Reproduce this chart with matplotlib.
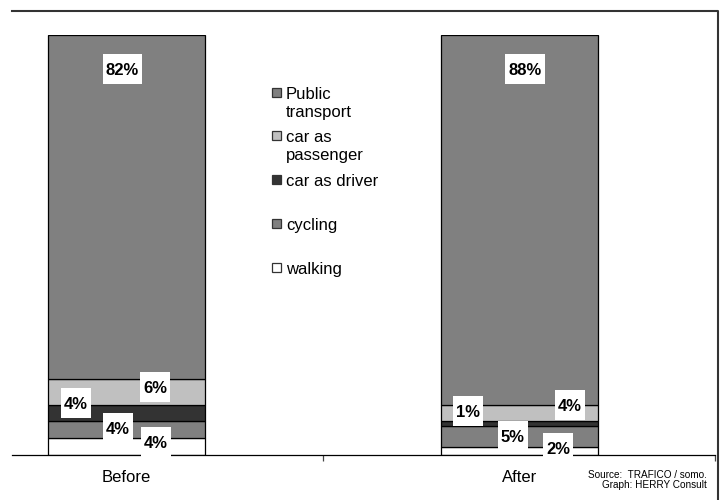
import matplotlib
matplotlib.use("Agg")
import matplotlib.pyplot as plt
from matplotlib.patches import Rectangle
from matplotlib.lines import Line2D
from matplotlib.transforms import Affine2D, ScaledTranslation

plt.rcParams['font.family'] = ['Liberation Sans', 'DejaVu Sans']

# Modal split, stacked bottom-up
periods = ["Before", "After"]
modes = ["walking", "cycling", "car as driver", "car as passenger", "Public transport"]
before = [4, 4, 4, 6, 82]
after = [2, 5, 1, 4, 88]
legend_labels = [["walking"], ["cycling"], ["car as driver"],
                 ["car as", "passenger"], ["Public", "transport"]]
colors = ["#FFFFFF", "#808080", "#333333", "#C0C0C0", "#808080"]

# value-label anchor points (x in category units, y in percent)
label_pos_before = [(0.075, 3.1), (-0.022, 6.4), (-0.128, 12.4), (0.0725, 16.2), (-0.01, 92.0)]
label_pos_after = [(1.098, 1.7), (0.983, 4.5), (0.869, 10.5), (1.128, 11.9), (1.014, 92.0)]

W, H = 721, 500
fig = plt.figure(figsize=(W / 100, H / 100), dpi=100)
ax = fig.add_axes([12 / W, 1 - 455 / H, (715 - 12) / W, (455 - 35) / H])

ax.set_xlim(-0.2913, 1.4975)
ax.set_ylim(0, 100)

series = [before, after]
label_pos = [label_pos_before, label_pos_after]
value_texts = []
for xi, (vals, pos) in enumerate(zip(series, label_pos)):
    bottom = 0
    for v, c in zip(vals, colors):
        ax.bar(xi, v, 0.4, bottom=bottom, color=c, edgecolor="black",
               linewidth=0.9, zorder=2)
        bottom += v
    for v, (lx, ly) in zip(vals, pos):
        t = ax.text(lx, ly, f"{v}%", ha="center", va="center_baseline",
                    fontsize=12, fontweight="bold", zorder=7, clip_on=False)
        value_texts.append((t, lx, ly))

ax.set_yticks([])
for s in ("left", "top", "right"):
    ax.spines[s].set_visible(False)
ax.spines["bottom"].set_color("black")
ax.spines["bottom"].set_linewidth(0.9)
ax.spines["bottom"].set_zorder(3)

ax.set_xticks([0, 1], periods)
ax.tick_params(axis="x", which="major", length=0, pad=11, labelsize=12)
ax.set_xticks([0.5, 1.4975], minor=True)
ax.tick_params(axis="x", which="minor", length=4, width=0.9, direction="out",
               color="#444444")

# White boxes behind the value labels, sized from the rendered text
fig.canvas.draw()
renderer = fig.canvas.get_renderer()
for t, lx, ly in value_texts:
    w = t.get_window_extent(renderer).width + 6
    h = 30
    box = Rectangle((-w / 2, -h / 2), w, h, facecolor="white", edgecolor="none",
                    zorder=6, clip_on=False,
                    transform=Affine2D() + ScaledTranslation(lx, ly, ax.transData))
    ax.add_patch(box)

# Legend, top-down
baselines = [274, 230, 186, 142, 99]
line_step = 18
for lines, c, b in zip(legend_labels, colors, baselines):
    fig.add_artist(Rectangle((271.5 / W, 1 - (b - 2) / H), 9 / W, 9 / H,
                             transform=fig.transFigure, facecolor=c,
                             edgecolor="#333333", linewidth=0.9))
    for k, line in enumerate(lines):
        fig.text(286 / W, 1 - (b + k * line_step) / H, line, fontsize=12,
                 ha="left", va="baseline")

# Source note
fig.text(707 / W, 1 - 478 / H, "Source:  TRAFICO / somo.", ha="right",
         va="baseline", fontsize=7.2)
fig.text(707 / W, 1 - 488 / H, "Graph: HERRY Consult", ha="right",
         va="baseline", fontsize=7.2)

# Outer frame (top and right)
fig.add_artist(Line2D([11.5 / W, 718 / W, 718 / W], [1 - 11 / H, 1 - 11 / H, 0],
                      transform=fig.transFigure, color="#333333", linewidth=1.5))

fig.savefig("out.png", dpi=100)
